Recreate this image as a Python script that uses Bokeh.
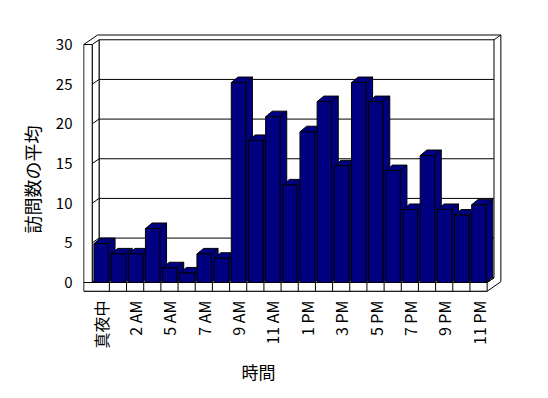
import math
from bokeh.plotting import figure
from bokeh.models import Range1d, FixedTicker, Title, ColumnDataSource
from bokeh.embed import file_html
from bokeh.resources import INLINE

# ---------------- data ----------------
hours = ["真夜中", "1 AM", "2 AM", "3 AM", "5 AM", "6 AM", "7 AM", "8 AM", "9 AM",
         "10 AM", "11 AM", "12 PM", "1 PM", "2 PM", "3 PM", "4 PM", "5 PM", "6 PM",
         "7 PM", "8 PM", "9 PM", "10 PM", "11 PM"]
avg_visits = [4.9, 3.6, 3.6, 6.8, 1.85, 1.2, 3.6, 3.05, 25.2, 17.9, 20.9, 12.3,
              19.0, 22.8, 14.7, 25.2, 22.8, 14.1, 9.2, 16.0, 9.2, 8.5, 9.8]
y_ticks = [0, 5, 10, 15, 20, 25, 30]
x_title = "時間"
y_title = "訪問数の平均"

# ---------------- layout / style ----------------
FONT = "Noto Sans CJK JP"
BAR_COLOR = "#000080"
n = len(hours)
YMAX = y_ticks[-1]
DX, DY = 0.40, 0.60        # wall depth offset (data units)
BDX, BDY = 0.39, 0.70      # bar depth offset
WALL_T = 0.49              # left wall thickness (category units)
FLOOR_T = 1.1              # floor thickness (value units)
BAR_L, BAR_R = -0.40, 0.44 # bar front face relative to category center

p = figure(width=548, height=398, output_backend="svg", toolbar_location=None,
           x_range=Range1d(-1.007, 23.57), y_range=Range1d(-1.26, 31.39),
           min_border_left=83, min_border_right=43, min_border_top=33,
           min_border_bottom=106)
p.outline_line_color = None
p.xgrid.visible = False
p.ygrid.visible = False
p.background_fill_color = "white"
p.border_fill_color = "white"

x0 = -0.5
xl = x0 - WALL_T
xr = n - 0.5

# outer silhouette
p.patch([xl, xl + 2 * DX, xr + 2 * DX, xr + 2 * DX, xr, xl],
        [YMAX, YMAX + 2 * DY, YMAX + 2 * DY, -FLOOR_T + 2 * DY, -FLOOR_T, -FLOOR_T],
        fill_color="white", line_color="black", line_width=1)
# back wall inner face
p.quad(left=[x0 + DX], right=[xr + DX], bottom=[DY], top=[YMAX + DY],
       fill_color="white", line_color="black", line_width=1)
# left wall inner face
p.patch([x0, x0, x0 + DX, x0 + DX], [0, YMAX, YMAX + DY, DY],
        fill_color="white", line_color="black", line_width=1)
# left wall front face
p.quad(left=[xl], right=[x0], bottom=[0], top=[YMAX],
       fill_color="white", line_color="black", line_width=1)
# floor top face
p.patch([x0, xr, xr + DX, x0 + DX], [0, 0, DY, DY],
        fill_color="white", line_color="black", line_width=1)
# floor front face
p.quad(left=[xl], right=[xr], bottom=[-FLOOR_T], top=[0],
       fill_color="white", line_color="black", line_width=1)
# right side edges
p.multi_line([[xr + DX, xr + 2 * DX], [xr, xr + DX]],
             [[YMAX + DY, YMAX + 2 * DY], [0, DY]], line_color="black", line_width=1)
# gridlines
gx, gy = [], []
for v in y_ticks[1:-1]:
    gx.append([x0, x0 + DX, xr + DX])
    gy.append([v, v + DY, v + DY])
p.multi_line(gx, gy, line_color="black", line_width=1)
# category dividers on floor front
p.segment(x0=[i - 0.5 for i in range(1, n)], y0=[-FLOOR_T] * (n - 1),
          x1=[i - 0.5 for i in range(1, n)], y1=[0] * (n - 1),
          line_color="black", line_width=1)

# bars
lefts = [i + BAR_L for i in range(n)]
rights = [i + BAR_R for i in range(n)]
side_xs = [[r, r, r + BDX, r + BDX] for r in rights]
side_ys = [[0, v, v + BDY, BDY] for v in avg_visits]
top_xs = [[l, r, r + BDX, l + BDX] for l, r in zip(lefts, rights)]
top_ys = [[v, v, v + BDY, v + BDY] for v in avg_visits]
p.patches(side_xs, side_ys, fill_color=BAR_COLOR, line_color="black", line_width=1)
p.patches(top_xs, top_ys, fill_color=BAR_COLOR, line_color="black", line_width=1)
src = ColumnDataSource(dict(left=lefts, right=rights, top=avg_visits,
                            bottom=[0] * n, hour=hours))
p.quad(left="left", right="right", top="top", bottom="bottom", source=src,
       fill_color=BAR_COLOR, line_color="black", line_width=1)

# axes
ya = p.yaxis[0]
ya.ticker = FixedTicker(ticks=y_ticks)
ya.axis_line_color = None
ya.major_tick_in = 0
ya.major_tick_out = 0
ya.minor_tick_in = 0
ya.minor_tick_out = 0
ya.major_label_standoff = 11
ya.major_label_text_font = FONT
ya.major_label_text_font_size = "15px"
ya.major_label_text_color = "black"

xa = p.xaxis[0]
xa.ticker = FixedTicker(ticks=list(range(0, n, 2)))
xa.major_label_overrides = {i: hours[i] for i in range(0, n, 2)}
xa.major_label_orientation = math.pi / 2
xa.axis_line_color = None
xa.major_tick_in = 0
xa.major_tick_out = 0
xa.minor_tick_in = 0
xa.minor_tick_out = 0
xa.major_label_standoff = 8
xa.major_label_text_font = FONT
xa.major_label_text_font_size = "16px"
xa.major_label_text_color = "black"

p.add_layout(Title(text=x_title, align="left", offset=158, text_font=FONT,
                   text_font_size="17px", text_font_style="normal",
                   text_color="black"), "below")
p.add_layout(Title(text=y_title, align="left", offset=59, standoff=16, text_font=FONT,
                   text_font_size="18px", text_font_style="normal",
                   text_color="black"), "left")

open("out.html", "w").write(file_html(p, INLINE))
